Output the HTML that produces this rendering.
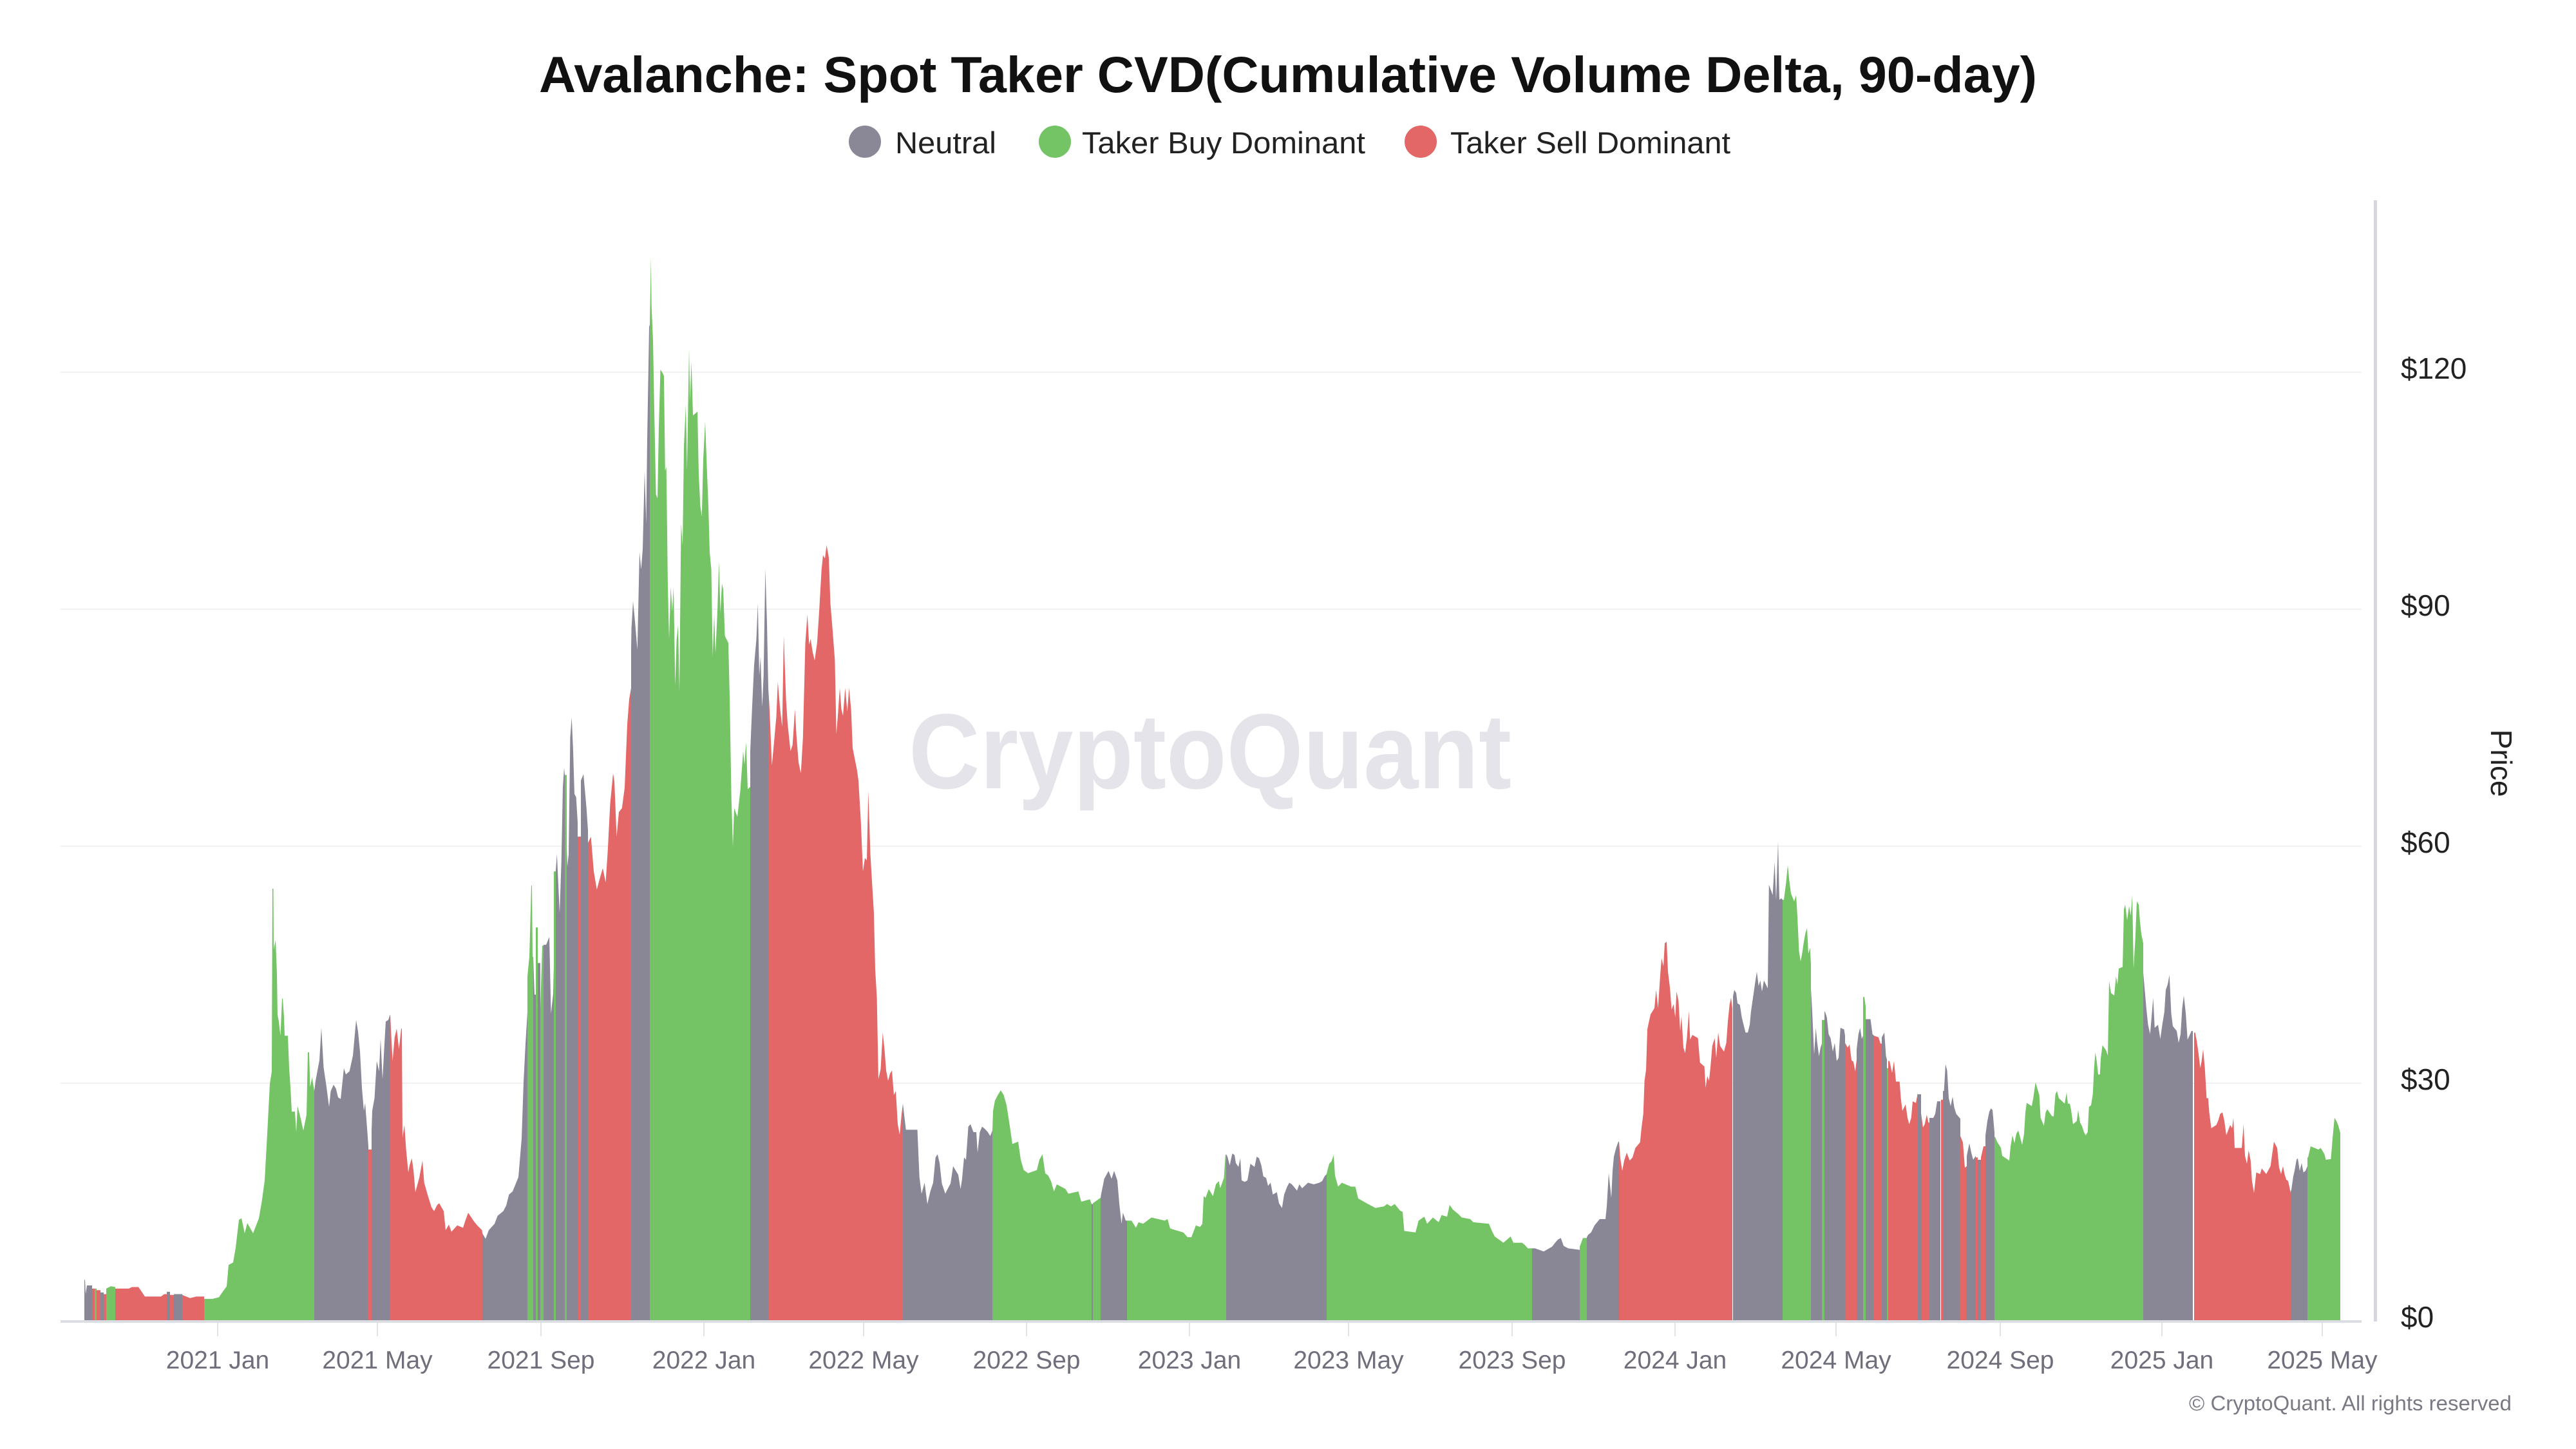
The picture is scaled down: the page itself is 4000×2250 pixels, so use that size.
<!DOCTYPE html>
<html>
<head>
<meta charset="utf-8">
<style>
  html,body{margin:0;padding:0;background:#ffffff;}
  body{width:4000px;height:2250px;overflow:hidden;}
  svg{display:block;}
  text{font-family:"Liberation Sans", Arial, sans-serif;}
</style>
</head>
<body>
<svg width="4000" height="2250" viewBox="0 0 4000 2250" xmlns="http://www.w3.org/2000/svg">
  <rect x="0" y="0" width="4000" height="2250" fill="#ffffff"/>

  <!-- Title -->
  <text x="2000" y="143" text-anchor="middle" font-size="79" font-weight="bold" fill="#111111" textLength="2326" lengthAdjust="spacingAndGlyphs">Avalanche: Spot Taker CVD(Cumulative Volume Delta, 90-day)</text>

  <!-- Legend -->
  <circle cx="1343" cy="220" r="25" fill="#8a8896"/>
  <text x="1390" y="238" font-size="47" fill="#222222" textLength="157" lengthAdjust="spacingAndGlyphs">Neutral</text>
  <circle cx="1638" cy="220" r="25" fill="#74c365"/>
  <text x="1680" y="238" font-size="47" fill="#222222" textLength="440" lengthAdjust="spacingAndGlyphs">Taker Buy Dominant</text>
  <circle cx="2206" cy="220" r="25" fill="#e36767"/>
  <text x="2252" y="238" font-size="47" fill="#222222" textLength="435" lengthAdjust="spacingAndGlyphs">Taker Sell Dominant</text>

  <!-- Gridlines -->
  <rect x="94" y="577" width="3573" height="2" fill="#f1f1f3"/>
  <rect x="94" y="945" width="3573" height="2" fill="#f1f1f3"/>
  <rect x="94" y="1313" width="3573" height="2" fill="#f1f1f3"/>
  <rect x="94" y="1681" width="3573" height="2" fill="#f1f1f3"/>

  <!-- Watermark -->
  <text x="1411" y="1224" font-size="166" font-weight="bold" fill="#e4e4ea" textLength="936" lengthAdjust="spacingAndGlyphs">CryptoQuant</text>

  <!-- Bars -->
  <g transform="translate(0,2050) scale(1,-12.27)">
    <!-- Neutral -->
    <path fill="#898795" d="
M131 0L131 5.1 132 5.1 133 3.3 135 4.4 143 4.4 143 0Z
M156 0L156 3.5 161 3.5 161 0Z
M259 0L259 3.6 264 3.6 264 0Z
M270 0L270 3.3 283 3.3 283 0Z
M488 0L488 29 490 30.3 496 32.9 499 37 502.5 32 507 29.5 511 27 513.6 29 518 29.8 521.7 29.3 525 28.2 529 28 534 31.9 537 31.1 542.7 31.5 548 33.5 553 38 556 36.5 559 34 562 29.4 565 26.5 567 27.5 571 23.2 572 22 572 0Z
M577 0L577 24 578 26.5 581.5 28.1 585 32.8 588.6 31.5 591 35.6 594 30.5 597 35 599 37.8 603 38 605 38.5 605 0Z
M749 0L749 11 754 10.3 759 11.4 768 12.2 772.6 13.2 781.5 13.8 786 14.5 790.4 15.9 796 16.3 805 18.1 810 23 813 30.1 816 35 819 39 819 0Z
M828 0L828 46 830 41.2 832 41.2 832 0Z
M835 0L835 45.2 839 45.2 839 0Z
M844 0L844 47.5 848 47.5 853 48.5 855.6 38.8 859 41.3 860 45 860 0Z
M863 0L863 57 864.8 59 869 51.5 871.7 58 874 67.5 876 69.9 877 69 877 0Z
M880 0L880 60 881 57.4 883 59 885.4 73.7 887.7 76.3 890 72 892 66.6 894.6 66.2 897 63 897 0Z
M902 0L902 68.3 906 69.1 908 67.3 910.7 64.8 913 62 913 0Z
M980 0L980 85 980.5 87.5 983 91 986.5 88 989.7 84.8 993 97.2 995.6 95 998 97.6 1001 107.5 1003.4 100.8 1005 111.5 1008 125.7 1009 126 1009 0Z
M1165 0L1165 72 1167.9 77.6 1171 82.9 1174.5 86.2 1176.8 90.7 1179 81.6 1181 84 1183.5 77.6 1185.7 81.6 1188.4 95.1 1191 88.1 1193 80 1193 0Z
M1402 0L1402 27.4 1406.7 24.1 1424.5 24.1 1427.7 18.1 1431 16 1435.7 17.4 1440 14.7 1444.6 16.3 1449 17.4 1452.7 20.6 1455.8 21 1459 19.9 1462.5 17.3 1467.9 16 1471.4 16.6 1476 17.3 1480 19.5 1488 18.4 1491.5 16.6 1493.8 17.8 1497 20.6 1500 20.3 1503.6 24.5 1507 24.8 1511.6 23.8 1516 23.8 1518 21.2 1521.4 23.8 1525 24.5 1529.5 24.2 1534 23.8 1537.5 23.3 1541 24 1541 0Z
M1695 0L1695 14.7 1697 14.7 1697 0Z
M1709 0L1709 15.5 1710 16 1714.7 17.9 1721.4 18.9 1726 17.9 1730 18.9 1735 17.7 1738 14.8 1741.5 12.2 1743.7 13.6 1748 12.6 1750 12.6 1750 0Z
M1904 0L1904 21 1906 20.7 1909.5 19.6 1913.5 21.1 1917 20.9 1919 19.9 1923 19.4 1926 20.5 1928 17.7 1932.7 17.5 1937 17.7 1941.6 19.8 1948 19.4 1951.4 20.7 1955 20.5 1958.6 19.6 1961.7 18.2 1966 18 1969 17 1973 17.4 1976.4 15.9 1982.7 16.2 1986 14.8 1990.7 14.2 1994 15.9 1998.7 16.9 2002 17.4 2006 17.2 2014 16.4 2017.5 17.2 2022 16.7 2031 17.4 2040 17.2 2048.7 17.4 2053 17.6 2056.8 18.2 2060 18.5 2060 0Z
M2379 0L2379 9.1 2383.6 9.1 2397 8.7 2410 9.3 2414.8 9.8 2419 10.2 2423.7 10.4 2428 9.4 2435 9.1 2453 8.9 2453 0Z
M2464 0L2464 10.5 2466 10.8 2470.6 11.1 2476 12 2484 12.8 2493 12.8 2495 14.4 2498 18.6 2502 15.5 2504 18.9 2506 20.7 2509.5 21.8 2513 22.6 2514 22.6 2514 0Z
M2691 0L2691 41 2693 41.8 2696 41.4 2698 40.1 2701.7 39.9 2704.7 38.3 2707.4 37.4 2710.5 36.4 2714 36.4 2717 37.4 2719 39.1 2722 40.8 2725 42.5 2728 44.1 2730.8 42.3 2733.4 43 2736 41.6 2739 43 2745 42 2746.8 55.1 2749.5 54.5 2752.6 53.8 2755.6 58 2758 53.2 2761 60.6 2763 53.2 2766 53.4 2768 53.2 2768 0Z
M2812 0L2812 42 2814 39.1 2817 33.6 2819.6 37 2821.5 35.3 2824.5 33.4 2827 34.5 2829 35 2829 0Z
M2833 0L2833 39 2833.7 39.1 2836.8 38.3 2839.5 36.2 2842.5 35.7 2846 34 2849 35.1 2852 32.8 2855 33.2 2857.8 37 2863.5 36.8 2865 36 2865 0Z
M2883 0L2883 34.3 2885.8 36.2 2888.4 37 2891 35.6 2893 36 2893 0Z
M2897 0L2897 38.1 2904.5 38.1 2907.6 36.2 2910 36 2910 0Z
M2922 0L2922 35.8 2926 36.4 2928.6 33.4 2930 33 2930 0Z
M2978 0L2978 28.6 2983 28.6 2983 0Z
M2996 0L2996 25.6 3002 25.6 3005 26.1 3008 27.7 3013 27.7 3013 0Z
M3017 0L3017 29 3018.6 29 3021 32.4 3023.5 31.6 3026 28.1 3029 27.1 3032 28.3 3034.6 26.9 3037.7 26.1 3044 25.5 3044 0Z
M3054 0L3054 20.8 3058 22.4 3061 21.2 3064 20.3 3068 20.8 3068 0Z
M3071 0L3071 20.3 3076 20.3 3076 0Z
M3083 0L3083 23.4 3086 25.2 3089 26.4 3091.5 26.8 3094 26.6 3097 23.8 3097 0Z
M3328 0L3328 44 3329.6 42.5 3332.7 39.6 3335.5 37.4 3338.7 36.2 3341.4 38.8 3343.4 40.8 3345.8 37 3351 37.4 3354.5 35.6 3357.6 37.4 3360.8 39 3363 41.8 3366 42.5 3368.7 43.7 3371.5 38.8 3374 37.2 3380 36.6 3383 35.1 3386 36.2 3388.5 39.5 3391 41.1 3394 38.9 3396.8 35.5 3403 36.6 3405 36.6 3405 0Z
M3557 0L3557 16.3 3558 16.5 3561 18.2 3563 18.9 3566 20.3 3568 20.5 3571 18.9 3574 19.9 3576.7 18.7 3580 18.9 3583 19.5 3583 0Z
"/>
    <!-- Taker Buy Dominant -->
    <path fill="#74c365" d="
M147 0L147 4 150 4 150 0Z
M165 0L165 4 172 4.3 179 4.2 179 0Z
M317 0L317 2.7 330 2.7 340 2.9 345 3.5 352 4.3 355 7 362 7.3 366 9.2 371 12.7 375 12.9 380 11 384 12.3 393 11 402 12.9 406.5 15 411 17.7 415 23.6 419 29.9 422 31.5 423 54.6 424.5 54.6 425 46.9 428 48.1 430 43.8 431 38.6 433 37.8 435.5 36 438 40.7 439 40.7 441 38.4 442 36 447 36 449 31.9 451 29.5 453 26.4 458 26.4 460 23.8 462 27.1 467 25.5 471 24 476 26 478 33.9 480 33.9 481.5 29.5 484.6 30.7 488 29 488 0Z
M819 0L819 43.5 822 46 825 55 826 55 827 46 828 46 828 0Z
M832 0L832 49.7 835 49.7 835 0Z
M839 0L839 39.5 842 47.4 844 47.4 844 0Z
M860 0L860 56.8 863 56.8 863 0Z
M877 0L877 69 880 69 880 0Z
M1009 0L1009 126 1010.8 134.5 1011.7 128.3 1014 124 1016 115 1018.6 104.5 1021 104 1023 113 1025.5 120.3 1028.7 119.9 1031 119.5 1032.8 107.5 1034.7 108 1037 92.8 1039 86.2 1041.5 92.8 1043.8 89.7 1046 92.8 1048.4 80.3 1050.7 86.2 1053 87.9 1055 79.5 1057.6 100.8 1060 98.1 1062 110.6 1065 115.9 1066.8 107.5 1070 123 1071.4 116.3 1073.7 121.3 1076 114.5 1080.6 114.8 1083 115 1085 107 1087.5 103 1089.8 101.7 1092 109 1095 113.7 1097.6 107.9 1100 103 1102 97.2 1104.5 95 1106.7 84 1109 89.3 1111 84.4 1114 89.7 1116.4 96 1118.7 89.5 1121 93.2 1123 92.5 1125.6 86.6 1131 85.7 1133 79 1135.7 66.1 1138 59.9 1140 64.8 1145 63.7 1149.5 67 1154 72 1156 70.3 1158.6 73.2 1161 67.2 1165 67.5 1165 0Z
M1541 0L1541 24 1542 26.5 1545 27.8 1549.5 28.5 1554 29.1 1558.5 28.5 1563 27.2 1567.4 24.9 1572 22.3 1581 22.6 1585 20.3 1589.7 19 1596.4 18.6 1610 19 1614 20.3 1618.7 21 1623 18.6 1627.7 18.3 1632 17.6 1636.6 16.3 1641 17.2 1654.5 16.6 1659 16 1674.5 16.3 1679 15 1692.4 15.3 1695 14.7 1695 0Z
M1697 0L1697 14.8 1709 15.5 1709 0Z
M1750 0L1750 12.6 1757 12.6 1763.8 11.7 1768 12.4 1775 12.2 1788 13 1808.5 12.6 1813 12.8 1817 11.6 1837.5 11.1 1844 10.5 1850 10.5 1857 12 1863.5 11.8 1867 12.2 1869 15.7 1872 15.5 1877 16.6 1883.6 15.7 1888 17.2 1892.5 17.6 1894.7 16.7 1900.5 18 1902.8 20.9 1904 21 1904 0Z
M2060 0L2060 18.5 2061 18.9 2064 19.8 2067.5 20.1 2071 20.9 2073 18.3 2077.8 16.9 2083.6 17.4 2098 16.9 2104.5 16.9 2109 15.4 2122 14.8 2135.8 14.2 2149 14.4 2153.7 14.7 2160 14.4 2165.7 14.7 2173.7 13.9 2178 13.7 2180.5 11.3 2198 11.1 2202.8 12.6 2211.7 13.1 2216 12.2 2225 13 2234 12.4 2238.5 13.3 2247 13.1 2251 14.6 2256 14 2265 13.4 2269.7 13 2283 12.8 2287.6 12.4 2312 12.2 2316.6 11.3 2321 10.6 2327.8 10.2 2334.5 9.8 2345.6 10.6 2350 9.8 2363.5 9.8 2368 9.5 2372.4 9.1 2379 9.1 2379 0Z
M2453 0L2453 9.3 2458 10.4 2464 10.4 2464 0Z
M2768 0L2768 53.2 2770 53.2 2773.6 55.5 2776 57.6 2778.6 55.5 2781 54 2786 53 2789 53.8 2791 51.1 2793.5 46.7 2796 45.4 2798.5 46.5 2801 47.9 2803.5 49 2806 49.6 2808 46.4 2810.8 47.1 2812 45 2812 0Z
M2829 0L2829 38 2833 38 2833 0Z
M2893 0L2893 40.9 2895 40.9 2897 39.7 2897 0Z
M2930 0L2930 31.9 2932 31.9 2932 0Z
M3097 0L3097 23.2 3098 23.2 3101 22.6 3107 21.8 3109 20.8 3120 20.2 3122 22 3125 23.4 3128 22.4 3131 23.6 3134 24 3140 22.2 3143 23.6 3145 26.3 3147 27.5 3155 27.1 3157.6 28.3 3160.7 30.1 3166.6 28.5 3168.6 25.6 3173.8 24.6 3176.5 26.3 3179 26.7 3186.4 25.8 3189 25.8 3191.6 28.6 3194 29 3197 28.1 3206 27.4 3209 28.8 3211 27.4 3214 27.4 3216 26.6 3219 24.8 3224.8 25.2 3227 26.6 3230 25 3232.7 24.6 3236 23.8 3238.6 23.4 3241.8 23.8 3243.7 27 3247 27.2 3249.7 28.6 3251.7 31.9 3253.6 33.9 3255.6 32.9 3258 31.1 3260.8 31.1 3262 33.1 3264.7 34.8 3270 34.2 3273 33.5 3275 42.9 3278 41.4 3283 41.1 3285.7 43.5 3288 42.5 3290 44.5 3296 44.7 3298 52 3300 52.6 3303 50.6 3306 52.4 3308.6 51.2 3311 53.8 3313 44.5 3315.7 48.3 3318 53 3321 52.6 3323 50.4 3325 48.9 3328 47.7 3328 0Z
M3583 0L3583 20.6 3584 20.6 3588 22 3600 21.6 3603.6 21.8 3609.5 21 3611.5 20.3 3619.4 20.4 3622 23 3625 25.6 3628 25.2 3631 24.6 3634 23.7 3634 0Z
"/>
    <!-- Taker Sell Dominant -->
    <path fill="#e36767" d="
M143 0L143 4 147 4 147 0Z
M150 0L150 3.8 156 3.8 156 0Z
M161 0L161 3.3 165 3.3 165 0Z
M179 0L179 4 200 4 205 4.2 215 4.2 220 3.6 225 3 250 3 255 3.3 259 3.3 259 0Z
M264 0L264 3.2 270 3.2 270 0Z
M283 0L283 3.2 295 2.8 305 3 317 3 317 0Z
M572 0L572 21.6 577 21.6 577 0Z
M605 0L605 38.5 606 38.7 607 36.9 609.6 32.8 612.8 35.8 616 36.9 619.5 34.3 623 36.9 624 36.9 625 23.1 628 24.7 630.6 21.6 634 18.7 636 19.6 639.5 20.5 642 19 645 16.2 651 18 656 20.2 658.7 17.4 665 15.6 670 14.3 674 13.8 679 14.6 682 14.8 689 13.8 692 11.4 697 12.1 701 11.2 710 12 719 11.7 722.6 12.6 727 13.6 736 12.5 741 12 748.5 11.4 749 11 749 0Z
M897 0L897 61.2 902 61.2 902 0Z
M913 0L913 60.4 917.6 61.2 922 56.8 926.8 54.5 931 55.8 936 57.2 940.5 55.4 943.8 59.5 947.4 65.3 952 69.2 954 68.2 957.5 61.2 961 64.3 965.8 64.8 970 67.4 974 75.4 977 78.6 980 80 980 0Z
M1193 0L1193 80 1195 77.3 1198.6 70.2 1202 73.2 1205.5 76.4 1207.8 80.8 1211.4 77.3 1214.6 75.1 1217 86.6 1220.6 78.5 1223 75.5 1227.5 72 1230.7 72.8 1234.4 77.3 1236.7 74 1240 70.6 1243.6 69.2 1246.8 73.7 1250.5 85.7 1253.7 89.3 1256.4 85.5 1258.7 86.2 1262 84.5 1265 83.5 1268.8 85.7 1272 89.7 1275.7 95 1278 96.8 1281 96.4 1283.5 98.1 1287 96.5 1289.5 90.6 1292.7 87.5 1296.4 83.5 1298.7 74.2 1301 76.5 1304 80 1306.5 77.3 1309 76.5 1312.4 80 1315.7 77 1318.4 80 1321.6 77.3 1324 72.4 1330.8 69.6 1333 68.3 1336.8 63 1340 56.8 1343 58.5 1346 58.2 1348.3 67 1351.5 59 1354.7 54.6 1357 51.5 1359 44.4 1361.6 40.8 1364 30.5 1367.5 31.8 1370.7 36.4 1373.5 34.2 1376 31.6 1379 30.3 1382 31.2 1385 31.6 1388 28.5 1391 29 1394 24.8 1397 23.5 1400 26.1 1402 27.4 1402 0Z
M2514 0L2514 22.6 2516 20.5 2519 18.9 2522 20.2 2526 21.2 2530.6 20.2 2535 20.6 2539.4 21.8 2546.7 22.5 2549 24.4 2551.7 26.1 2553.6 30.3 2556 31.7 2558 36.8 2560.5 37.8 2563 38.7 2569 39.5 2571.6 41.8 2574.6 39.5 2577.7 43.3 2580 45.8 2583 44.8 2585 47.7 2588 47.9 2590 44.1 2593 42.1 2595.7 39.3 2598.7 40 2601.4 38.3 2603.3 41.6 2606.4 40.4 2609 36.6 2611 38.5 2614 34.5 2616.7 33.8 2619.4 35.7 2622.5 39.1 2624.4 35.5 2628 36.1 2636.6 35.7 2639.7 32.6 2646.6 32.1 2648.5 29.4 2651 30.9 2653.8 30.3 2656 32 2658.8 34.7 2662.6 35.7 2665 33.2 2668 36.4 2671 34.7 2677 34 2680.6 35.1 2683 37.8 2685.6 39.9 2688 40.8 2690 39.5 2690 0Z
M2865 0L2865 35.1 2869 34.5 2872 34.9 2875 32.9 2878 32.7 2880.8 31.5 2883 33 2883 0Z
M2910 0L2910 36 2917 35.8 2920 35 2922 35 2922 0Z
M2932 0L2932 32.8 2934 32.8 2938 31.3 2941 32.8 2944 30.2 2949.7 30.2 2951.6 28.1 2954 26.5 2959 27.3 2962 25.6 2964.6 24.8 2967.7 25.6 2970 27.7 2975 27.5 2978 28.8 2978 0Z
M2983 0L2983 26.2 2986 24.4 2988.7 24.8 2991.8 26 2994.5 25 2996 25 2996 0Z
M3014 0L3014 27.9 3017 27.9 3017 0Z
M3044 0L3044 23.3 3048 22.5 3051 19.3 3054 19.5 3054 0Z
M3068 0L3068 20.6 3071 20.6 3071 0Z
M3076 0L3076 20.6 3080 22 3083 22 3083 0Z
M3407 0L3407 36.4 3408.6 36.4 3411 35.4 3413.8 33.8 3416.5 31.9 3418.5 32.7 3421 34.3 3423.7 31.9 3426.4 28.1 3428.8 28.1 3430.4 26.4 3433.6 24.3 3441.5 24.7 3444.6 25.3 3447.4 26.1 3451 26.3 3454 25.2 3457 23.4 3463 24.7 3466 24.3 3468 25.6 3470 21.8 3481 21.8 3483.8 24.8 3486 20.8 3489 19.8 3491.7 21.5 3494.8 20.2 3496.8 17.7 3500 16.1 3503.5 18.7 3509.5 18.5 3512 19.2 3519 18.5 3525.7 19.5 3528.5 21.2 3531 22.6 3536 21.8 3539 19.3 3542 18.5 3545 19.5 3547.4 18.5 3550 17.8 3553 17.6 3557 16.1 3557 0Z
"/>
  </g>

  <!-- X axis baseline -->
  <rect x="94" y="2050" width="3573" height="4" fill="#dcdce3"/>

  <!-- X ticks -->
  <g fill="#e2e2e8">
    <rect x="337" y="2054" width="2" height="21"/>
    <rect x="585" y="2054" width="2" height="21"/>
    <rect x="839" y="2054" width="2" height="21"/>
    <rect x="1092" y="2054" width="2" height="21"/>
    <rect x="1340" y="2054" width="2" height="21"/>
    <rect x="1593" y="2054" width="2" height="21"/>
    <rect x="1846" y="2054" width="2" height="21"/>
    <rect x="2093" y="2054" width="2" height="21"/>
    <rect x="2347" y="2054" width="2" height="21"/>
    <rect x="2600" y="2054" width="2" height="21"/>
    <rect x="2850" y="2054" width="2" height="21"/>
    <rect x="3105" y="2054" width="2" height="21"/>
    <rect x="3356" y="2054" width="2" height="21"/>
    <rect x="3605" y="2054" width="2" height="21"/>
  </g>

  <!-- X labels -->
  <g font-size="39" fill="#6f6e7b" text-anchor="middle">
    <text x="338" y="2125">2021 Jan</text>
    <text x="586" y="2125">2021 May</text>
    <text x="840" y="2125">2021 Sep</text>
    <text x="1093" y="2125">2022 Jan</text>
    <text x="1341" y="2125">2022 May</text>
    <text x="1594" y="2125">2022 Sep</text>
    <text x="1847" y="2125">2023 Jan</text>
    <text x="2094" y="2125">2023 May</text>
    <text x="2348" y="2125">2023 Sep</text>
    <text x="2601" y="2125">2024 Jan</text>
    <text x="2851" y="2125">2024 May</text>
    <text x="3106" y="2125">2024 Sep</text>
    <text x="3357" y="2125">2025 Jan</text>
    <text x="3606" y="2125">2025 May</text>
  </g>

  <!-- Right axis line -->
  <rect x="3686" y="311" width="5" height="1741" fill="#d6d6de"/>

  <!-- Y labels -->
  <g font-size="46" fill="#222222">
    <text x="3728" y="588">$120</text>
    <text x="3728" y="956">$90</text>
    <text x="3728" y="1324">$60</text>
    <text x="3728" y="1692">$30</text>
    <text x="3728" y="2061">$0</text>
  </g>
  <text x="3884" y="1185" font-size="46" fill="#222222" text-anchor="middle" dominant-baseline="central" transform="rotate(90 3884 1185)">Price</text>

  <!-- Copyright -->
  <text x="3900" y="2190" font-size="32" fill="#7a7a85" text-anchor="end" textLength="501" lengthAdjust="spacingAndGlyphs">© CryptoQuant. All rights reserved</text>
</svg>
</body>
</html>
